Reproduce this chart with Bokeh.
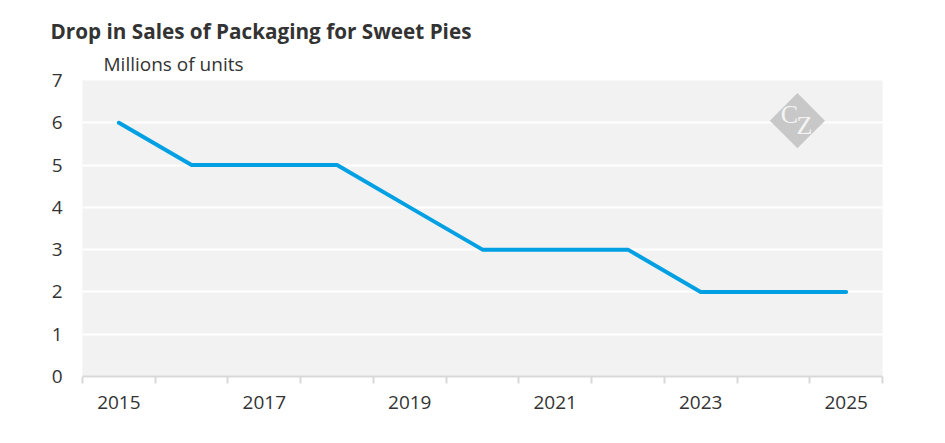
from bokeh.embed import file_html
from bokeh.resources import INLINE
from bokeh.plotting import figure
from bokeh.models import FixedTicker, Range1d, Title
from bokeh.core.properties import value

# data
years = [2015, 2016, 2017, 2018, 2019, 2020, 2021, 2022, 2023, 2024, 2025]
sales = [6, 5, 5, 5, 4, 3, 3, 3, 2, 2, 2]
label_years = [2015, 2017, 2019, 2021, 2023, 2025]
y_ticks = [0, 1, 2, 3, 4, 5, 6, 7]

FONT = "Open Sans"
TXT = "#333333"

p = figure(width=937, height=435, output_backend="svg", toolbar_location=None,
           x_range=Range1d(years[0] - 0.5, years[-1] + 0.5),
           y_range=Range1d(0, 7),
           min_border_left=82, min_border_right=55,
           min_border_top=80, min_border_bottom=59)

p.background_fill_color = "#f2f2f2"
p.border_fill_color = "white"
p.outline_line_color = None

p.line(years, sales, line_color="#00a0e3", line_width=4,
       line_cap="round", line_join="round")

# x axis: labels on odd years, tick marks on the band edges
edges = [y - 0.5 for y in years] + [years[-1] + 0.5]
p.xaxis.ticker = FixedTicker(ticks=label_years, minor_ticks=edges)
p.xaxis.major_tick_out = 0
p.xaxis.major_tick_in = 0
p.xaxis.minor_tick_out = 7
p.xaxis.minor_tick_in = 0
p.xaxis.minor_tick_line_color = "#d9d9d9"
p.xaxis.minor_tick_line_width = 2
p.xaxis.axis_line_color = "#d9d9d9"
p.xaxis.axis_line_width = 2
p.xaxis.major_label_standoff = 12
p.xaxis.major_label_text_font = FONT
p.xaxis.major_label_text_font_size = "19px"
p.xaxis.major_label_text_color = TXT
p.xgrid.grid_line_color = None

p.yaxis.ticker = FixedTicker(ticks=y_ticks)
p.yaxis.axis_line_color = None
p.yaxis.major_tick_out = 0
p.yaxis.major_tick_in = 0
p.yaxis.minor_tick_out = 0
p.yaxis.minor_tick_in = 0
p.yaxis.major_label_standoff = 20
p.yaxis.major_label_text_font = FONT
p.yaxis.major_label_text_font_size = "19px"
p.yaxis.major_label_text_color = TXT
p.ygrid.grid_line_color = "white"
p.ygrid.grid_line_width = 2

# titles (first added sits closest to the plot)
p.add_layout(Title(text="Millions of units", align="left", offset=21,
                   text_font=FONT, text_font_size="19px",
                   text_font_style="normal", text_color=TXT, standoff=8), "above")
p.add_layout(Title(text="Drop in Sales of Packaging for Sweet Pies", align="left",
                   offset=-32, text_font=FONT, text_font_size="20.7px",
                   text_font_style="bold", text_color=TXT, standoff=0), "above")

# logo
p.scatter([2024.33], [6.05], marker="square", size=39, angle=0.785398,
          fill_color="#c8c8c8", line_color=None)
p.text([2024.33], [6.05], text=["C"], x_offset=-8, y_offset=-6,
       text_font=value("Liberation Serif"), text_font_size="26px",
       text_color="#f4f4f4", text_align="center", text_baseline="middle")
p.text([2024.33], [6.05], text=["Z"], x_offset=7, y_offset=5,
       text_font=value("Liberation Serif"), text_font_size="26px",
       text_color="#f4f4f4", text_align="center", text_baseline="middle")

open("out.html", "w").write(file_html(p, INLINE))
